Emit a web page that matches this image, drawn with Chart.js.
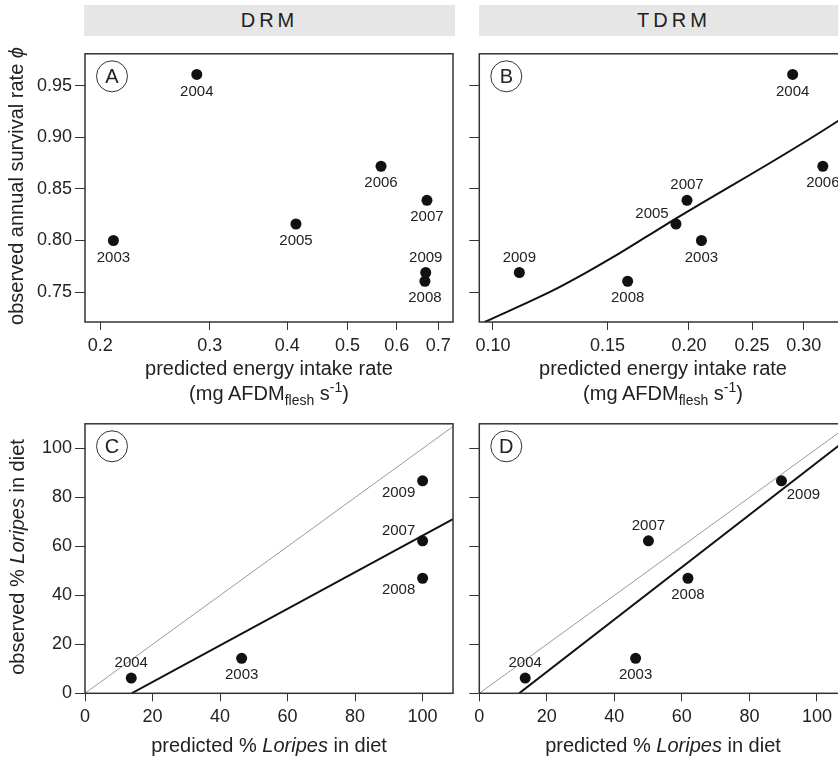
<!DOCTYPE html>
<html>
<head>
<meta charset="utf-8">
<script src="https://cdn.jsdelivr.net/npm/chart.js@4"></script>
<style>
  html, body { margin: 0; padding: 0; background: #fff; overflow: hidden; }
  body { width: 838px; height: 757px; font-family: "Liberation Sans", Arial, sans-serif; color: #222; }
  #wrap { position: relative; width: 870px; height: 757px; }
  canvas { position: absolute; }
  .strip { position: absolute; background: #e6e6e6; height: 31px; line-height: 31px; text-align: center; font-size: 20px; letter-spacing: 4px; color: #222; }
  .ytitle { position: absolute; font-size: 20px; white-space: nowrap; transform: translate(-50%, -50%) rotate(-90deg); }
  .xtitle { position: absolute; font-size: 20px; white-space: nowrap; transform: translate(-50%, -50%); text-align: center; line-height: 25px; }
  sub, sup { font-size: 14px; line-height: 0; }
</style>
</head>
<body>
<div id="wrap">
  <div class="strip" style="left:84px; top:5px; width:371px;">DRM</div>
  <div class="strip" style="left:479px; top:5px; width:390px;">TDRM</div>

  <canvas id="chartA" style="left:0px; top:40px;" width="460" height="340"></canvas>
  <canvas id="chartB" style="left:440px; top:40px;" width="420" height="340"></canvas>
  <canvas id="chartC" style="left:0px; top:410px;" width="460" height="330"></canvas>
  <canvas id="chartD" style="left:440px; top:410px;" width="420" height="330"></canvas>

  <div class="ytitle" style="left:16px; top:186px;">observed annual survival rate <i>&#981;</i></div>
  <div class="ytitle" style="left:17px; top:557px;">observed % <i>Loripes</i> in diet</div>

  <div class="xtitle" style="left:269px; top:381px;">predicted energy intake rate<br>(mg AFDM<sub>flesh</sub> s<sup>-1</sup>)</div>
  <div class="xtitle" style="left:663px; top:381px;">predicted energy intake rate<br>(mg AFDM<sub>flesh</sub> s<sup>-1</sup>)</div>
  <div class="xtitle" style="left:269px; top:745px;">predicted % <i>Loripes</i> in diet</div>
  <div class="xtitle" style="left:663px; top:745px;">predicted % <i>Loripes</i> in diet</div>
</div>

<script>
// --- dados ---
const years = ['2003', '2004', '2005', '2006', '2007', '2008', '2009'];
const survival = [0.800, 0.961, 0.816, 0.872, 0.839, 0.7605, 0.769];
const drmIntake = [0.210, 0.286, 0.413, 0.566, 0.671, 0.666, 0.668];
const tdrmIntake = [0.209, 0.2885, 0.191, 0.321, 0.1986, 0.161, 0.1098];

// curva ajustada do painel B
const fitBx = [0.0971, 0.1232, 0.1386, 0.1559, 0.1839, 0.3391, 0.350];
const fitBy = [0.721, 0.7512, 0.7685, 0.7870, 0.8150, 0.9161, 0.9222];

const dietYears = ['2003', '2004', '2007', '2008', '2009'];
const observedDiet = [14.3, 6.2, 62.3, 47.0, 86.8];
const drmDiet = [46.4, 13.7, 100, 100, 100];
const tdrmDiet = [46.3, 13.6, 50.1, 61.8, 89.5];

// linhas de regressao (pontos extremos) e linha 1:1
const fitCx = [13.8, 109];
const fitCy = [0, 71.2];
const fitDx = [11.8, 109];
const fitDy = [0, 103.9];
const oneToOne = [0, 109];

// ticks
const survTicks = [0.75, 0.80, 0.85, 0.90, 0.95];
const survLabels = ['0.75', '0.80', '0.85', '0.90', '0.95'];
const drmTicks = [0.2, 0.3, 0.4, 0.5, 0.6, 0.7];
const drmLabels = ['0.2', '0.3', '0.4', '0.5', '0.6', '0.7'];
const tdrmTicks = [0.10, 0.15, 0.20, 0.25, 0.30];
const tdrmLabels = ['0.10', '0.15', '0.20', '0.25', '0.30'];
const pctTicks = [0, 20, 40, 60, 80, 100];
const pctLabels = ['0', '20', '40', '60', '80', '100'];

// posicao dos rotulos dos anos (estilo, fora dos dados)
const OFF = {
    below: [0, 17], above: [0, -15],
    leftAbove: [-24, -10], leftBelow: [-24, 12], rightBelow: [22, 14]
};
const posA = ['below', 'below', 'below', 'below', 'below', 'below', 'above'];
const posB = ['below', 'below', 'leftAbove', 'below', 'above', 'below', 'above'];
const posC = ['below', 'above', 'leftAbove', 'leftBelow', 'leftBelow'];
const posD = ['below', 'above', 'above', 'below', 'rightBelow'];

const FONT = '"Liberation Sans", Arial, sans-serif';
const INK = '#222';

function pts(xs, ys) { return xs.map((x, i) => ({ x: x, y: ys[i] })); }

// moldura, letra circulada e rotulos dos anos
const panelPlugin = {
    id: 'panelPlugin',
    afterDatasetsDraw(chart, args, opts) {
        const ctx = chart.ctx;
        const a = chart.chartArea;
        ctx.save();

        // rotulos dos anos
        const meta = chart.getDatasetMeta(0);
        ctx.font = '15px ' + FONT;
        ctx.fillStyle = INK;
        ctx.textAlign = 'center';
        ctx.textBaseline = 'middle';
        meta.data.forEach((el, i) => {
            const o = OFF[opts.pos[i]];
            ctx.fillText(opts.labels[i], el.x + o[0], el.y + o[1]);
        });

        // moldura
        ctx.strokeStyle = '#333';
        ctx.lineWidth = 1.5;
        ctx.strokeRect(a.left, a.top, a.right - a.left, a.bottom - a.top);

        // letra do painel
        const cx = a.left + 27, cy = a.top + 22.5;
        ctx.lineWidth = 1;
        ctx.beginPath();
        ctx.arc(cx, cy, 15.5, 0, Math.PI * 2);
        ctx.stroke();
        ctx.font = '20px ' + FONT;
        ctx.fillText(opts.letter, cx, cy + 1);
        ctx.restore();
    }
};

function axis(type, min, max, tickVals, tickLabels, isY, size, showLabels) {
    return {
        type: type,
        min: min,
        max: max,
        border: { display: false },
        grid: { drawOnChartArea: false, drawTicks: true, tickLength: isY ? 10 : 8, color: '#333', lineWidth: 1 },
        ticks: {
            color: INK,
            font: { family: FONT, size: 18 },
            padding: isY ? 3 : 5,
            autoSkip: false,
            maxRotation: 0,
            callback: (v) => {
                if (!showLabels) return '';
                const k = tickVals.findIndex(t => Math.abs(t - v) < 1e-9);
                return k >= 0 ? tickLabels[k] : '';
            }
        },
        afterBuildTicks: (scale) => { scale.ticks = tickVals.map(v => ({ value: v })); },
        afterFit: (scale) => { if (isY) scale.width = size; else scale.height = size; }
    };
}

function makePanel(id, cfg) {
    new Chart(document.getElementById(id), {
        type: 'scatter',
        data: { datasets: cfg.datasets },
        options: {
            responsive: false,
            animation: false,
            events: [],
            layout: { padding: cfg.padding },
            plugins: {
                legend: { display: false },
                tooltip: { enabled: false },
                panelPlugin: { labels: cfg.labels, pos: cfg.pos, letter: cfg.letter }
            },
            scales: { x: cfg.x, y: cfg.y }
        },
        plugins: [panelPlugin]
    });
}

const pointStyle = { pointRadius: 5.5, pointBackgroundColor: '#111', pointBorderWidth: 0, showLine: false };
const blackLine = { showLine: true, pointRadius: 0, borderColor: '#111', borderWidth: 2 };
const grayLine = { showLine: true, pointRadius: 0, borderColor: '#9a9a9a', borderWidth: 1 };

const topPad = { top: 10, right: 7, left: 0, bottom: 0 };
const topPadR = { top: 10, right: 12.7, left: 0, bottom: 0 };
const botPad = { top: 11.7, right: 7, left: 0, bottom: 0 };
const botPadR = { top: 11.7, right: 12.7, left: 0, bottom: 0 };

// A
makePanel('chartA', {
    datasets: [{ data: pts(drmIntake, survival), ...pointStyle }],
    labels: years, pos: posA, letter: 'A', padding: topPad,
    x: axis('logarithmic', 0.189, 0.739, drmTicks, drmLabels, false, 58, true),
    y: axis('linear', 0.721, 0.981, survTicks, survLabels, true, 85, true)
});

// B
makePanel('chartB', {
    datasets: [
        { data: pts(tdrmIntake, survival), ...pointStyle },
        { data: pts(fitBx, fitBy), ...blackLine, cubicInterpolationMode: 'monotone' }
    ],
    labels: years, pos: posB, letter: 'B', padding: topPadR,
    x: axis('logarithmic', 0.0953, 0.350, tdrmTicks, tdrmLabels, false, 58, true),
    y: axis('linear', 0.721, 0.981, survTicks, survLabels, true, 39.3, false)
});

// C
makePanel('chartC', {
    datasets: [
        { data: pts(drmDiet, observedDiet), ...pointStyle },
        { data: pts(fitCx, fitCy), ...blackLine },
        { data: pts(oneToOne, oneToOne), ...grayLine }
    ],
    labels: dietYears, pos: posC, letter: 'C', padding: botPad,
    x: axis('linear', 0, 109, pctTicks, pctLabels, false, 46.7, true),
    y: axis('linear', 0, 110.1, pctTicks, pctLabels, true, 85, true)
});

// D
makePanel('chartD', {
    datasets: [
        { data: pts(tdrmDiet, observedDiet), ...pointStyle },
        { data: pts(fitDx, fitDy), ...blackLine },
        { data: pts(oneToOne, oneToOne), ...grayLine }
    ],
    labels: dietYears, pos: posD, letter: 'D', padding: botPadR,
    x: axis('linear', 0, 109, pctTicks, pctLabels, false, 46.7, true),
    y: axis('linear', 0, 110.1, pctTicks, pctLabels, true, 39.3, false)
});
</script>
</body>
</html>
